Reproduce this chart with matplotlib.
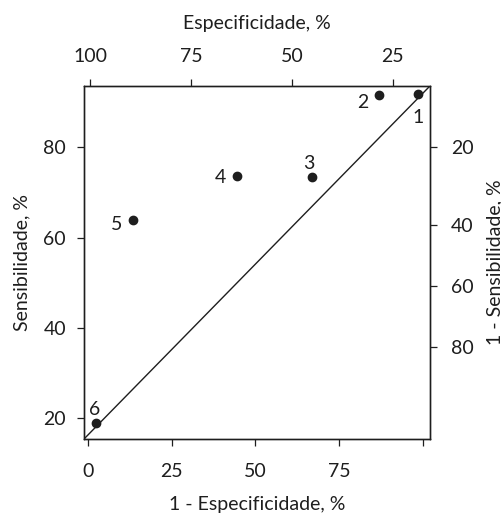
import matplotlib
matplotlib.use("Agg")
import matplotlib.pyplot as plt

plt.rcParams['font.family'] = ['Lato', 'DejaVu Sans']
plt.rcParams['font.size'] = 14

# pontos (1 - especificidade, sensibilidade)
rotulos = ['1', '2', '3', '4', '5', '6']
fpr = [98.6, 86.9, 66.9, 44.5, 13.5, 2.3]
sens = [91.8, 91.6, 73.4, 73.6, 63.9, 18.9]

# eixos
xticks_inf = [0, 25, 50, 75, 100]
xlabels_inf = ['0', '25', '50', '75', '']
yticks_esq = [20, 40, 60, 80]
xticks_sup = [100, 75, 50, 25]
# eixo direito: posicao (em unidades de sensibilidade) de cada rotulo
ylabels_dir = ['20', '40', '60', '80']
yticks_dir = [80.2, 62.9, 49.3, 35.8]

# deslocamento dos numeros em relacao aos pontos (pt)
offs = [(0, -17), (-12, -5.5), (-2, 10), (-12, -1), (-12, -3.5), (-1, 10)]

cor = '#1e1e1e'
fig = plt.figure(figsize=(5.02, 5.13), dpi=100)
ax = fig.add_axes([0.1673, 0.1442, 0.689, 0.688])

ax.plot([0, 1], [0, 1], transform=ax.transAxes, color=cor, lw=1.0)
ax.plot(fpr, sens, 'o', color=cor, ms=6)
for r, x, y, o in zip(rotulos, fpr, sens, offs):
    ax.annotate(r, (x, y), xytext=o, textcoords='offset points',
                ha='center', va='center', color=cor)

ax.set_xlim(-1.2, 102.1)
ax.set_ylim(15.4, 93.6)
ax.set_xticks(xticks_inf)
ax.set_xticklabels(xlabels_inf)
ax.set_yticks(yticks_esq)
ax.tick_params(axis='x', length=5, width=0.9, pad=12, colors=cor)
ax.tick_params(axis='y', length=5, width=0.9, pad=8, colors=cor)
ax.set_xlabel('1 - Especificidade, %', color=cor, labelpad=12)
ax.set_ylabel('Sensibilidade, %', color=cor, labelpad=9)

top = ax.twiny()
top.set_xlim(101.5, 15.8)
top.set_xticks(xticks_sup)
top.tick_params(axis='x', length=5, width=0.9, pad=10, colors=cor)
top.set_xlabel('Especificidade, %', color=cor, labelpad=14)

dir_ = ax.twinx()
dir_.set_ylim(ax.get_ylim())
dir_.set_yticks(yticks_dir)
dir_.set_yticklabels(ylabels_dir)
dir_.tick_params(axis='y', length=5, width=0.9, pad=10, colors=cor)
dir_.set_ylabel('1 - Sensibilidade, %', color=cor, labelpad=9)

for a in (ax, top, dir_):
    for s in a.spines.values():
        s.set_linewidth(0.9)
        s.set_color(cor)

fig.savefig('out.png', dpi=100)
